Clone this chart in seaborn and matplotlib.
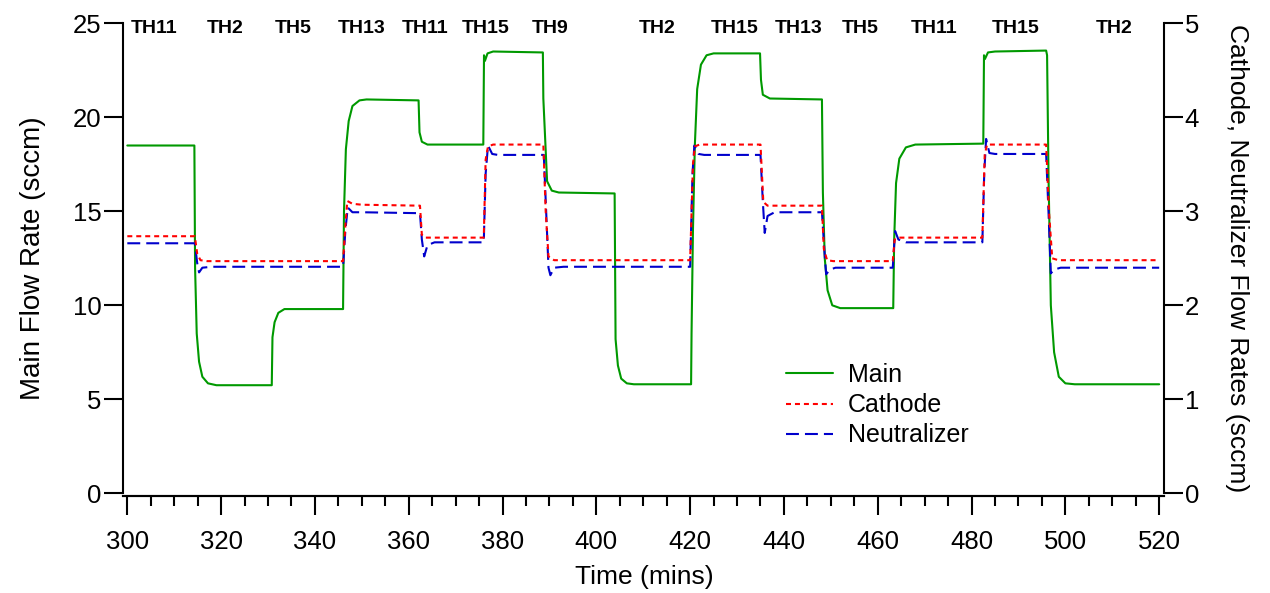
import pandas as pd
import matplotlib
matplotlib.use('Agg')
import matplotlib.pyplot as plt
import seaborn as sns
from matplotlib.ticker import MultipleLocator

sns.set_style('ticks')
plt.rcParams['font.family'] = ['Liberation Sans', 'DejaVu Sans']
plt.rcParams['text.color'] = 'black'
plt.rcParams['axes.labelcolor'] = 'black'
plt.rcParams['xtick.color'] = 'black'
plt.rcParams['ytick.color'] = 'black'
plt.rcParams['axes.edgecolor'] = 'black'

# Main flow (sccm), left axis -- (time, value)
main_t = [300, 314.3, 314.45, 314.8, 315.3, 316.0, 317.2, 319.0, 330.8, 330.95, 331.4, 332.2, 333.5, 346.0,
          346.2, 346.6, 347.2, 348.0, 349.5, 351, 362.1, 362.3, 362.8, 364, 375.9, 376.05, 376.25, 376.8,
          378, 388.6, 388.7, 389.5, 390.5, 392, 403.9, 404.1, 404.6, 405.3, 406.5, 408, 420.2, 420.3,
          420.6, 421.0, 421.5, 422.3, 423.5, 425, 434.9, 435.1, 435.5, 437, 448.1, 448.3, 448.7, 449.3,
          450.3, 452, 463.3, 463.5, 463.9, 464.6, 466, 468, 482.5, 482.65, 482.85, 483.5, 485, 495.9,
          496.1, 496.4, 496.9, 497.6, 498.6, 500, 502, 520]
main_v = [18.5, 18.5, 12.0, 8.5, 7.0, 6.2, 5.85, 5.75, 5.75, 8.3, 9.1, 9.6, 9.8, 9.8,
          15.0, 18.3, 19.8, 20.6, 20.9, 20.95, 20.9, 19.2, 18.7, 18.55, 18.55, 23.3, 23.0, 23.4,
          23.5, 23.45, 21.0, 16.6, 16.1, 16.0, 15.95, 8.2, 6.8, 6.1, 5.85, 5.8, 5.8, 8.5,
          14.0, 18.5, 21.5, 22.8, 23.3, 23.4, 23.4, 22.0, 21.2, 21.0, 20.95, 16.0, 12.5, 10.8,
          10.0, 9.85, 9.85, 13.5, 16.5, 17.8, 18.4, 18.55, 18.6, 23.3, 23.1, 23.45, 23.5, 23.55,
          23.3, 17.0, 10.0, 7.5, 6.2, 5.85, 5.8, 5.8]

# Cathode flow (sccm), right axis
cath_t = [300, 314.4, 314.9, 315.6, 317, 346.0, 346.5, 346.9, 348, 350, 362.4, 362.8, 363.5, 376.0,
          376.4, 376.9, 378, 388.7, 389.2, 389.8, 391, 420.0, 420.6, 421.0, 422, 435.0, 435.6, 436.5,
          448.1, 448.5, 449.2, 450.5, 463.2, 463.6, 464.5, 482.3, 482.8, 483.3, 495.9, 496.5, 497.2,
          498.5, 520]
cath_v = [2.735, 2.735, 2.55, 2.48, 2.47, 2.47, 2.85, 3.11, 3.08, 3.07, 3.06, 2.75, 2.72, 2.72,
          3.55, 3.69, 3.71, 3.71, 3.0, 2.52, 2.48, 2.48, 3.5, 3.69, 3.71, 3.71, 3.1, 3.06,
          3.06, 2.6, 2.48, 2.47, 2.47, 2.70, 2.72, 2.72, 3.6, 3.71, 3.71, 3.0, 2.5,
          2.48, 2.48]

# Neutralizer flow (sccm), right axis
neut_t = [300, 314.4, 314.9, 315.3, 316, 318, 346.0, 346.5, 347.0, 348, 350, 362.4, 362.8, 363.3,
          364.0, 365.5, 376.0, 376.4, 376.9, 377.8, 379, 388.8, 389.3, 389.8, 390.2, 391, 393, 420.0,
          420.5, 420.9, 421.8, 423, 435.0, 435.5, 435.9, 436.5, 438, 448.1, 448.6, 449.0, 449.8, 451,
          463.2, 463.7, 464.4, 466, 482.3, 482.7, 483.1, 483.8, 485, 495.9, 496.4, 496.9, 497.6, 499,
          520]
neut_v = [2.66, 2.66, 2.45, 2.35, 2.40, 2.41, 2.41, 2.8, 3.04, 2.99, 2.99, 2.98, 2.7, 2.52,
          2.64, 2.67, 2.67, 3.4, 3.70, 3.61, 3.60, 3.60, 3.0, 2.40, 2.32, 2.40, 2.41, 2.41,
          3.4, 3.70, 3.61, 3.60, 3.60, 3.1, 2.77, 2.95, 2.99, 2.99, 2.6, 2.33, 2.38, 2.40,
          2.40, 2.79, 2.70, 2.67, 2.67, 3.4, 3.77, 3.62, 3.61, 3.61, 3.0, 2.34, 2.38, 2.40,
          2.40]

# thruster condition labels along the top
cond_labels = ['TH11', 'TH2', 'TH5', 'TH13', 'TH11', 'TH15', 'TH9', 'TH2', 'TH15', 'TH13', 'TH5',
               'TH11', 'TH15', 'TH2']
cond_x = [305.6, 320.9, 335.4, 350.0, 363.5, 376.4, 390.1, 413.0, 429.4, 443.1, 456.3, 472.0,
          489.3, 510.3]

df_main = pd.DataFrame({'t': main_t, 'v': main_v})
df_cath = pd.DataFrame({'t': cath_t, 'v': cath_v})
df_neut = pd.DataFrame({'t': neut_t, 'v': neut_v})

fig = plt.figure(figsize=(12.7, 5.93), dpi=100)
ax = fig.add_axes([0.0971, 0.1681, 0.8197, 0.7926])
ax2 = ax.twinx()

sns.lineplot(data=df_main, x='t', y='v', ax=ax, color='#009900', lw=1.5,
             estimator=None, sort=False, legend=False)
sns.lineplot(data=df_neut, x='t', y='v', ax=ax2, color='#0000cc', lw=1.5,
             estimator=None, sort=False, legend=False)
sns.lineplot(data=df_cath, x='t', y='v', ax=ax2, color='#ff0000', lw=1.5,
             estimator=None, sort=False, legend=False)
ax2.lines[0].set_dashes((6.2, 2.9))
ax2.lines[1].set_dashes((2.4, 1.9))

ax.set_xlim(299.15, 521.1)
ax.set_ylim(0, 25)
ax2.set_ylim(0, 5)

for a in (ax, ax2):
    a.spines['top'].set_visible(False)
    for s in a.spines.values():
        s.set_linewidth(1.5)
    a.spines['bottom'].set_position(('outward', 2.2))
ax.spines['right'].set_visible(False)
ax2.spines['left'].set_visible(False)

ax.xaxis.set_major_locator(MultipleLocator(20))
ax.xaxis.set_minor_locator(MultipleLocator(5))
ax.yaxis.set_major_locator(MultipleLocator(5))
ax2.yaxis.set_major_locator(MultipleLocator(1))
ax.tick_params(axis='both', which='major', length=13.7, width=1.5, labelsize=18.5)
ax.tick_params(axis='x', which='major', pad=10.5)
ax.tick_params(axis='y', which='major', pad=2)
ax.tick_params(axis='x', which='minor', length=7.5, width=1.5)
ax2.tick_params(axis='y', which='major', length=13.7, width=1.5, labelsize=18.5, pad=1)

ax.set_xlabel('Time (mins)', fontsize=19, labelpad=8)
ax.set_ylabel('Main Flow Rate (sccm)', fontsize=20, labelpad=19)
ax2.set_ylabel('Cathode, Neutralizer Flow Rates (sccm)', fontsize=19, rotation=270, labelpad=36)

for lab, xp in zip(cond_labels, cond_x):
    ax.text(xp, 24.75, lab, ha='center', va='center', fontsize=14, fontweight='bold')

handles = [ax.lines[0], ax2.lines[1], ax2.lines[0]]
fig.legend(handles, ['Main', 'Cathode', 'Neutralizer'], loc='upper left',
           bbox_to_anchor=(786 / 1270, 1 - 363 / 593), frameon=False, fontsize=18,
           handlelength=1.88, handletextpad=0.6, labelspacing=0.25, borderpad=0, borderaxespad=0)

fig.savefig('out.png', dpi=100)
